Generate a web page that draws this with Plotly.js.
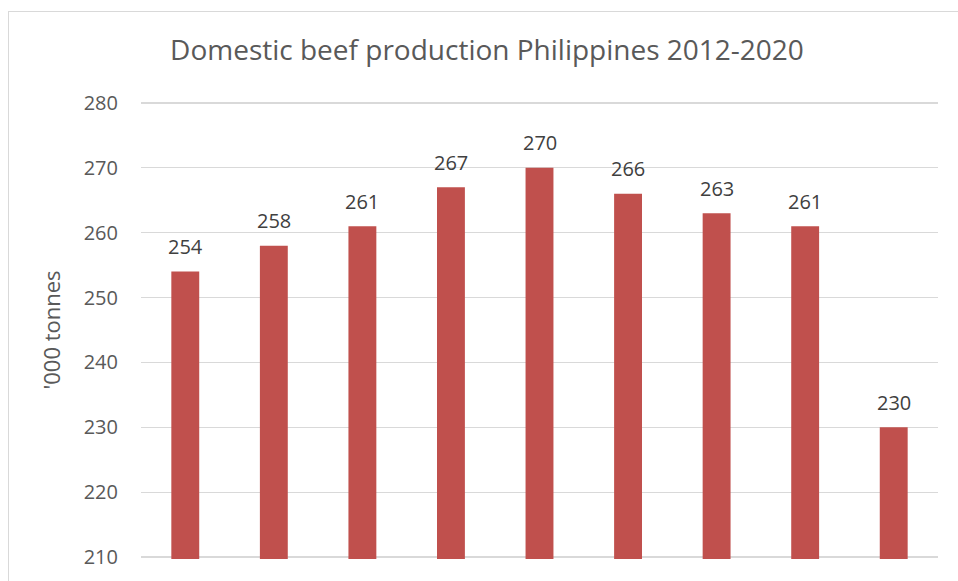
<!DOCTYPE html>
<html>
<head>
<meta charset="utf-8">
<script src="https://cdn.plot.ly/plotly-3.0.1.min.js"></script>
<style>
  html, body { margin: 0; padding: 0; background: #ffffff; overflow: hidden; }
  #frame { position: absolute; left: 8px; top: 11px; width: 1000px; height: 700px;
           border-left: 1px solid #d9d9d9; border-top: 1px solid #d9d9d9; pointer-events: none; z-index: 5; }
  #chart { position: absolute; left: 0; top: 0; width: 958px; height: 581px; }
</style>
</head>
<body>
<div id="chart"></div>
<div id="frame"></div>
<script>
const years = ['2012', '2013', '2014', '2015', '2016', '2017', '2018', '2019', '2020'];
const production = [254, 258, 261, 267, 270, 266, 263, 261, 230];
const yTicks = [210, 220, 230, 240, 250, 260, 270, 280];
const chartTitle = 'Domestic beef production Philippines 2012-2020';
const yTitle = "'000 tonnes";

const FONT = 'Open Sans, Noto Sans, sans-serif';

const trace = {
  type: 'bar',
  x: years,
  y: production,
  marker: { color: '#c0504d' },
  hoverinfo: 'x+y'
};

// annotations on a category axis: use the category index
const annotations = years.map((yr, i) => ({
  x: i,
  y: production[i],
  xref: 'x',
  yref: 'y',
  text: String(production[i]),
  showarrow: false,
  yanchor: 'middle',
  xanchor: 'center',
  yshift: 25,
  font: { family: FONT, size: 20, color: '#404040' }
}));

const layout = {
  width: 958,
  height: 581,
  margin: { l: 141, r: 20, t: 101, b: 22 },
  paper_bgcolor: '#ffffff',
  plot_bgcolor: '#ffffff',
  bargap: 0.685,
  showlegend: false,
  title: {
    text: chartTitle,
    font: { family: FONT, size: 28, color: '#595959' },
    x: 487 / 958,
    xref: 'container',
    xanchor: 'center',
    y: 1 - 50 / 581,
    yref: 'container',
    yanchor: 'middle'
  },
  xaxis: {
    type: 'category',
    categoryorder: 'array',
    categoryarray: years,
    showticklabels: false,
    showgrid: false,
    showline: false,
    zeroline: false,
    ticks: ''
  },
  yaxis: {
    range: [209.7, 280.3],
    tickvals: yTicks,
    ticktext: yTicks.map(String),
    showgrid: true,
    gridcolor: '#d9d9d9',
    gridwidth: 1.3,
    zeroline: false,
    showline: false,
    ticks: '',
    ticklabelstandoff: 22,
    tickfont: { family: FONT, size: 20, color: '#595959' },
    title: {
      text: yTitle,
      font: { family: FONT, size: 22, color: '#595959' },
      standoff: 16
    }
  },
  annotations: annotations
};

Plotly.newPlot('chart', [trace], layout, { displayModeBar: false, staticPlot: true });
</script>
</body>
</html>
